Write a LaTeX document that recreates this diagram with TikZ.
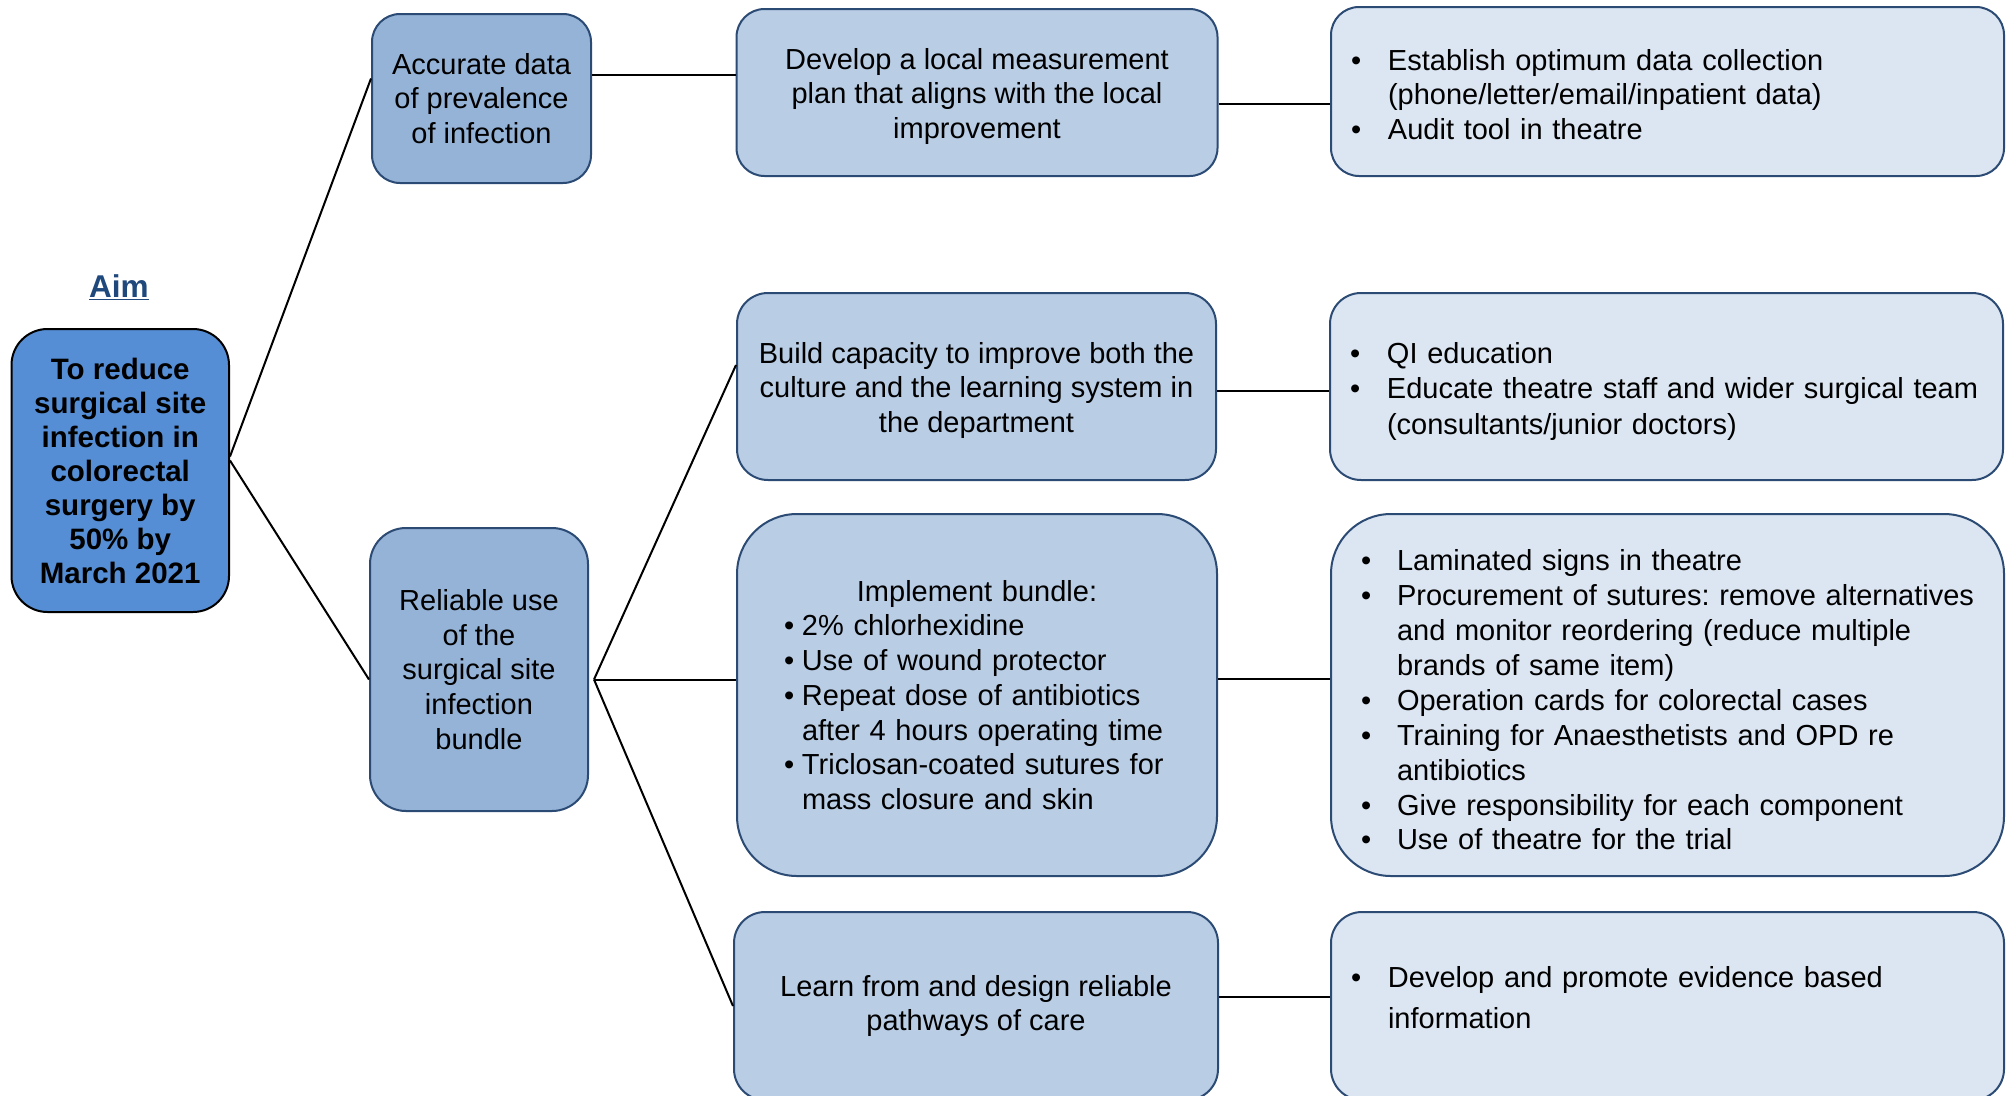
\documentclass[tikz,border=0pt]{standalone}
\usepackage{fontspec}
\setmainfont{Liberation Sans}
\frenchspacing
\usetikzlibrary{calc}
\definecolor{aimfill}{HTML}{558ED5}
\definecolor{lvtwo}{HTML}{95B3D7}
\definecolor{lvthree}{HTML}{B9CDE5}
\definecolor{lvfour}{HTML}{DCE6F2}
\definecolor{edge}{HTML}{2C4B74}
\definecolor{aimtext}{HTML}{1F497D}
\newcommand{\topstrut}[1]{\rule{0pt}{#1pt}}
\newcommand{\botstrut}[1]{\rule[-#1pt]{0pt}{1pt}}
\begin{document}
\begin{tikzpicture}[x=1pt,y=-1pt,
  base/.style={draw=edge, line width=2pt, inner sep=0pt, align=center,
    font=\fontsize{29}{34.7}\selectfont},
  aimbox/.style={base, draw=black, fill=aimfill, rounded corners=36pt,
    font=\bfseries\fontsize{29.5}{34}\selectfont},
  drvbox/.style={base, fill=lvtwo},
  chgbox/.style={base, fill=lvthree},
  actbox/.style={base, fill=lvfour},
  link/.style={draw=black, line width=2pt}
]
\clip (0,0) rectangle (2009,1095);
\fill[white] (0,0) rectangle (2009,1095);

% aim
\node[font=\bfseries\fontsize{31.5}{36}\selectfont, text=aimtext] (aimlabel) at (119,287) {\underline{Aim}};
\node[aimbox, minimum width=217.5pt, minimum height=283pt] (aim) at (120.25,470.5)
  {To reduce\\surgical site\\infection in\\colorectal\\surgery by\\50\% by\\March 2021};

% primary drivers
\node[drvbox, rounded corners=28pt, minimum width=219pt, minimum height=169pt] (acc) at (481.5,98.5)
  {Accurate data\\of prevalence\\of infection};
\node[drvbox, rounded corners=36pt, minimum width=218pt, minimum height=283pt] (rel) at (479,669.5)
  {Reliable use\\of the\\surgical site\\infection\\bundle};

% secondary drivers
\node[chgbox, rounded corners=28pt, minimum width=481pt, minimum height=167pt] (m1) at (977,92.5)
  {\topstrut{29}Develop a local measurement\\plan that aligns with the local\\improvement};
\node[chgbox, rounded corners=31pt, minimum width=479pt, minimum height=187pt] (m2) at (976.5,386.5)
  {\topstrut{29}Build capacity to improve both the\\culture and the learning system in\\the department};
\node[chgbox, rounded corners=60pt, minimum width=480pt, minimum height=362pt, text width=386pt, align=left] (m3) at (977,695)
  {\makebox[386pt][c]{Implement bundle:}\\
   \makebox[18pt][l]{\textbullet}2\% chlorhexidine\\
   \makebox[18pt][l]{\textbullet}Use of wound protector\\
   \makebox[18pt][l]{\textbullet}Repeat dose of antibiotics\\
   \hspace*{18pt}after 4 hours operating time\\
   \makebox[18pt][l]{\textbullet}Triclosan-coated sutures for\\
   \hspace*{18pt}mass closure and skin};
\node[chgbox, rounded corners=31pt, minimum width=484pt, minimum height=188pt] (m4) at (976,1006)
  {Learn from and design reliable\\pathways of care};

% change ideas
\node[actbox, rounded corners=28pt, minimum width=673pt, minimum height=169pt, text width=633pt, align=left] (r1) at (1667.5,91.5)
  {\topstrut{27}\makebox[37pt][l]{\textbullet}\mbox{Establish optimum data collection}\\
   \hspace*{37pt}\mbox{(phone/letter/email/inpatient data)}\\
   \makebox[37pt][l]{\textbullet}\mbox{Audit tool in theatre}};
\node[actbox, rounded corners=31pt, minimum width=673pt, minimum height=187pt, text width=633pt, align=left,
  font=\fontsize{29}{35.5}\selectfont] (r2) at (1666.5,386.5)
  {\topstrut{31}\makebox[37pt][l]{\textbullet}\mbox{QI education}\\
   \makebox[37pt][l]{\textbullet}\mbox{Educate theatre staff and wider surgical team}\\
   \hspace*{37pt}\mbox{(consultants/junior doctors)}};
\node[actbox, rounded corners=60pt, minimum width=673pt, minimum height=362pt, text width=613pt, align=left,
  font=\fontsize{29}{34.9}\selectfont] (r3) at (1667.5,695)
  {\topstrut{31}\makebox[36pt][l]{\textbullet}\mbox{Laminated signs in theatre}\\
   \makebox[36pt][l]{\textbullet}\mbox{Procurement of sutures: remove alternatives}\\
   \hspace*{36pt}\mbox{and monitor reordering (reduce multiple}\\
   \hspace*{36pt}\mbox{brands of same item)}\\
   \makebox[36pt][l]{\textbullet}\mbox{Operation cards for colorectal cases}\\
   \makebox[36pt][l]{\textbullet}\mbox{Training for Anaesthetists and OPD re}\\
   \hspace*{36pt}\mbox{antibiotics}\\
   \makebox[36pt][l]{\textbullet}\mbox{Give responsibility for each component}\\
   \makebox[36pt][l]{\textbullet}\mbox{Use of theatre for the trial}};
\node[actbox, rounded corners=31pt, minimum width=673pt, minimum height=188pt, text width=633pt, align=left,
  font=\fontsize{29}{41}\selectfont] (r4) at (1667.5,1006)
  {\makebox[37pt][l]{\textbullet}\mbox{Develop and promote evidence based}\\
   \hspace*{37pt}\mbox{information}\botstrut{18}};

% connectors
\draw[link] ($(aim.east)+(0,-14)$) -- ($(acc.west)+(0,-20)$);
\draw[link] ($(aim.east)+(0,-10)$) -- ($(rel.west)+(0,10)$);
\draw[link] ($(acc.east)+(0,-23.5)$) coordinate (pa) -- (pa -| m1.west);
\coordinate (hub) at ($(rel.east)+(5,10)$);
\draw[link] (hub) -- ($(m2.west)+(0,-21.5)$);
\draw[link] (hub) -- (hub -| m3.west);
\draw[link] (hub) -- (m4.west);
\draw[link] ($(m1.east)+(0,11.5)$) coordinate (pb) -- (pb -| r1.west);
\draw[link] ($(m2.east)+(0,4.5)$) coordinate (pc) -- (pc -| r2.west);
\draw[link] ($(m3.east)+(0,-16)$) coordinate (pd) -- (pd -| r3.west);
\draw[link] ($(m4.east)+(0,-9)$) coordinate (pe) -- (pe -| r4.west);
\end{tikzpicture}
\end{document}
